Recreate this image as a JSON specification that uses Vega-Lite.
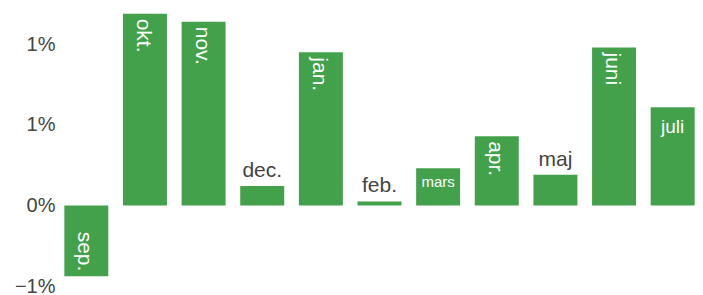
{
  "$schema": "https://vega.github.io/schema/vega-lite/v6.json",
  "width": 645,
  "height": 282,
  "autosize": {"type": "none"},
  "padding": {"left": 57, "top": 4, "right": 1, "bottom": 9},
  "background": "white",
  "config": {
    "view": {"stroke": null},
    "font": "Liberation Sans",
    "text": {"font": "Liberation Sans"}
  },
  "data": {
    "values": [
      {"month": "sep.", "change": -0.0044},
      {"month": "okt.", "change": 0.0119},
      {"month": "nov.", "change": 0.0114},
      {"month": "dec.", "change": 0.0012},
      {"month": "jan.", "change": 0.0095},
      {"month": "feb.", "change": 0.00025},
      {"month": "mars", "change": 0.0023},
      {"month": "apr.", "change": 0.0043},
      {"month": "maj", "change": 0.0019},
      {"month": "juni", "change": 0.0098},
      {"month": "juli", "change": 0.0061}
    ]
  },
  "encoding": {
    "x": {
      "field": "month",
      "type": "nominal",
      "sort": null,
      "axis": null,
      "scale": {"paddingInner": 0.25, "paddingOuter": 0.125}
    },
    "y": {
      "field": "change",
      "type": "quantitative",
      "scale": {"domain": [-0.005, 0.0125], "nice": false, "zero": true},
      "axis": {
        "title": null,
        "values": [0.01, 0.005, 0, -0.005],
        "format": ".0%",
        "domain": false,
        "ticks": false,
        "grid": false,
        "labelFont": "Liberation Sans",
        "labelFontSize": 20,
        "labelColor": "#444444",
        "labelPadding": 2
      }
    }
  },
  "layer": [
    {"mark": {"type": "bar", "color": "#43a14c"}},
    {
      "transform": [{"filter": {"field": "month", "oneOf": ["okt.", "nov.", "jan.", "apr.", "juni"]}}],
      "mark": {"type": "text", "angle": 90, "align": "left", "baseline": "middle", "dx": 5, "dy": 2, "fontSize": 21, "color": "white"},
      "encoding": {"text": {"field": "month"}}
    },
    {
      "transform": [{"filter": {"field": "month", "oneOf": ["sep."]}}],
      "mark": {"type": "text", "angle": 90, "align": "right", "baseline": "middle", "dx": -5, "dy": 2, "fontSize": 21, "color": "white"},
      "encoding": {"text": {"field": "month"}}
    },
    {
      "transform": [{"filter": {"field": "month", "oneOf": ["dec.", "feb.", "maj"]}}],
      "mark": {"type": "text", "align": "center", "baseline": "alphabetic", "dy": -9, "fontSize": 21, "color": "#444444"},
      "encoding": {"text": {"field": "month"}}
    },
    {
      "transform": [{"filter": {"field": "month", "oneOf": ["juli"]}}],
      "mark": {"type": "text", "align": "center", "baseline": "alphabetic", "dy": 26, "fontSize": 19, "color": "white"},
      "encoding": {"text": {"field": "month"}}
    },
    {
      "transform": [{"filter": {"field": "month", "oneOf": ["mars"]}}],
      "mark": {"type": "text", "align": "center", "baseline": "alphabetic", "dy": 19, "fontSize": 15, "color": "white"},
      "encoding": {"text": {"field": "month"}}
    }
  ]
}
